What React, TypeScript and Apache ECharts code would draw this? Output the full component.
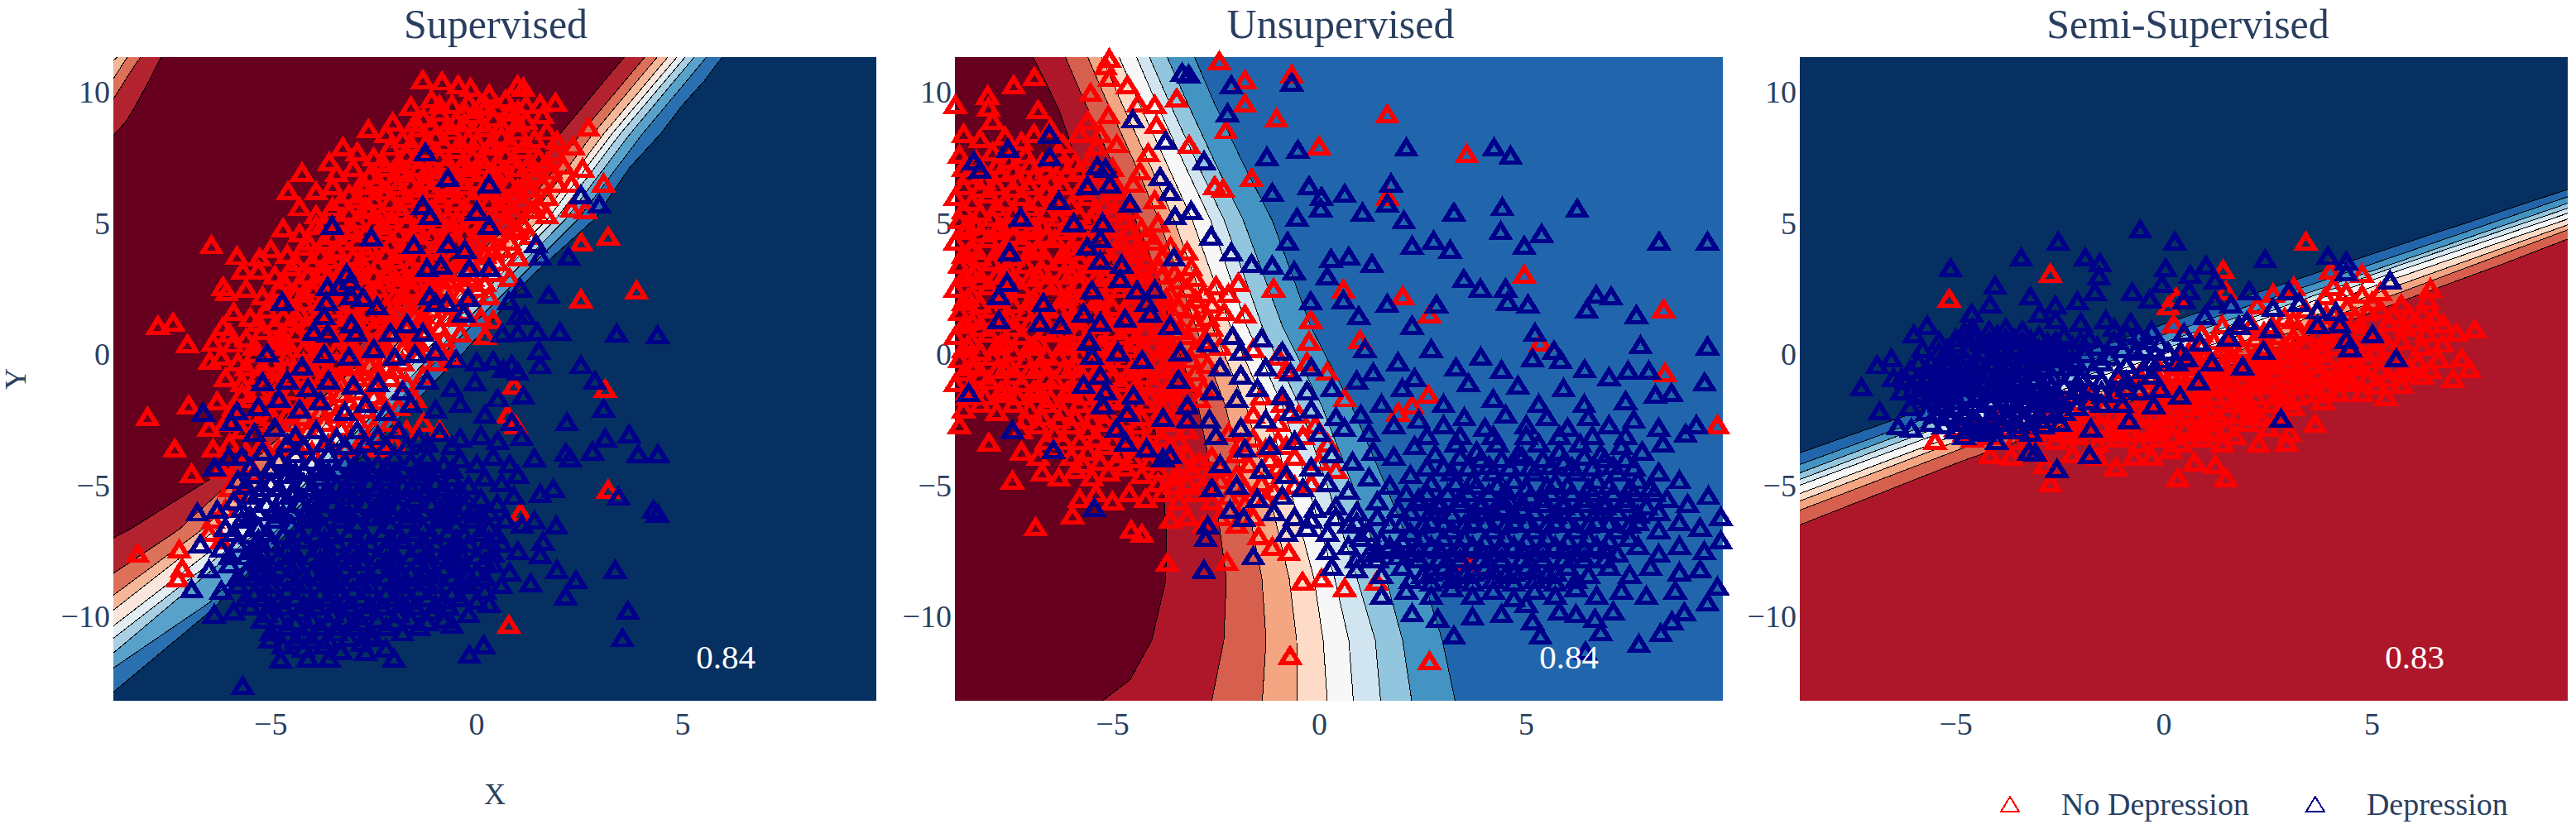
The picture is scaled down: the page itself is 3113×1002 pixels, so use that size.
import React, { useEffect, useRef } from "react";
import * as echarts from "echarts";

const panelTitles = ["Supervised", "Unsupervised", "Semi-Supervised"];
const scores = ["0.84", "0.84", "0.83"];
const tickX = [-5, 0, 5];
const tickY = [-10, -5, 0, 5, 10];
const legendNames = ["No Depression", "Depression"];

// Scatter points, flat x,y lists
const supNo = [
-1.31,10.45,-.84,10.39,-.45,10.25,-.15,10.15,.23,9.44,.99,10.25,1.13,10.15,1.54,9.54,1.91,9.59,2.71,8.63,2.34,7.93,1.95,8.13,2.57,7.08,3.08,6.51,2.3,6.51,1.95,6.51,2.3,5.54,2.64,5.5,2.54,4.25,3.19,4.49,3.88,2.43,2.53,2.1,3.12,-1.33,3.19,-5.16,1.06,-6.03,.78,-10.31,-6.44,4.15,-5.82,3.74,-5.27,3.68,-4.24,6.92,-4.58,6.21,-3.58,7.32,-3.25,7.89,-2.63,8.57,-2.04,8.84,-1.6,9.44,-7.74,1.09,-7.37,1.21,-7.02,.38,-7.99,-2.39,-8.23,-7.6,-7.33,-3.6,-6.92,-4.55,-7.22,-7.44,-7.15,-8.15,-7.25,-8.55,-6.99,-1.94,-6.48,-.26,-6.4,.44,-6.16,1.05,-5.93,.4,-5.68,3.18,-6.16,2.57,-6.07,2.37,
-1.1,9.7,-.6,9.5,-.2,9.6,.3,9.9,.7,9.7,1.2,9.5,-1.3,9,-.9,9.2,-.5,8.9,-.1,9.1,.4,9,.8,9.2,1.2,8.9,1.6,9.1,
-2.2,8.4,-1.8,8.2,-1.4,8.6,-1,8.3,-.6,8.5,-.2,8.2,.2,8.6,.6,8.3,1,8.5,1.4,8.2,1.7,8.5,
-2.9,7.7,-2.5,7.5,-2.1,7.9,-1.7,7.6,-1.3,7.8,-.9,7.5,-.5,7.8,-.1,7.5,.3,7.9,.7,7.6,1.1,7.8,1.5,7.5,1.9,7.7,
-3.4,6.9,-3,7.1,-2.6,6.8,-2.2,7.1,-1.8,6.9,-1.4,7.1,-1,6.8,-.6,7,-.2,6.9,.2,7.2,.6,6.9,1,7.1,1.4,6.8,1.8,7,2.1,7.2,
-3.9,6.2,-3.5,6.4,-3.1,6.1,-2.7,6.4,-2.3,6.2,-1.9,6.4,-1.5,6.1,-1.1,6.3,-.7,6.1,-.3,6.4,.1,6.2,.5,6.4,.9,6.1,1.3,6.3,1.7,6,
-4.3,5.6,-3.9,5.3,-3.5,5.6,-3.1,5.4,-2.7,5.6,-2.3,5.3,-1.9,5.6,-1.5,5.3,-1.1,5.5,-.7,5.2,-.3,5.6,.1,5.3,.5,5.6,.9,5.3,1.3,5.5,1.7,5.3,
-4.7,4.8,-4.3,4.6,-3.9,4.9,-3.5,4.5,-3.1,4.8,-2.7,4.6,-2.3,4.9,-1.9,4.6,-1.5,4.8,-1.1,4.5,-.7,4.8,-.3,4.6,.1,4.9,.5,4.6,.9,4.8,1.3,4.5,
-5,4,-4.6,3.8,-4.2,4.1,-3.8,3.8,-3.4,4,-3,3.7,-2.6,4.1,-2.2,3.8,-1.8,4,-1.4,3.7,-1,4,-.6,3.7,-.2,4.1,.2,3.8,.6,4,1,3.7,
-5.3,3.2,-4.9,3,-4.5,3.3,-4.1,3,-3.7,3.2,-3.3,3,-2.9,3.3,-2.5,3,-2.1,3.2,-1.7,2.9,-1.3,3.2,-.9,2.9,-.5,3.2,-.1,2.9,.4,3.1,.8,2.9,
-5.6,2.5,-5.2,2.2,-4.8,2.5,-4.4,2.3,-4,2.5,-3.6,2.2,-3.2,2.5,-2.8,2.3,-2.4,2.5,-2,2.2,-1.6,2.5,-1.2,2.2,-.8,2.5,-.4,2.3,0,2.5,.3,2.2,
-5.9,1.6,-5.5,1.4,-5.1,1.7,-4.7,1.4,-4.3,1.6,-3.9,1.4,-3.5,1.7,-3.1,1.4,-2.7,1.6,-2.3,1.3,-1.9,1.6,-1.5,1.4,-1.1,1.7,-.7,1.4,-.3,1.6,.1,1.4,.4,1.3,
-6,.8,-5.6,.6,-5.2,.9,-4.8,.6,-4.4,.8,-4,.6,-3.6,.9,-3.2,.6,-2.8,.8,-2.4,.5,-2,.8,-1.6,.6,-1.2,.9,-.8,.6,-.4,.8,.2,.7,
-6.2,-.1,-5.8,-.3,-5.4,0,-5,-.3,-4.6,-.1,-4.2,-.3,-3.8,0,-3.4,-.3,-3,-.1,-2.6,-.4,-2.2,-.1,-1.8,-.3,-1.4,0,-1,-.3,-.6,-.1,
-6.1,-.9,-5.7,-1.1,-5.3,-.8,-4.9,-1.1,-4.5,-.9,-4.1,-1.1,-3.7,-.8,-3.3,-1.1,-2.9,-.9,-2.5,-1.2,-2.1,-.9,-1.7,-1.1,-1.3,-.8,.9,-1.2,.75,-2.3,.95,-2.7,
-6.3,-1.8,-5.9,-2,-5.5,-1.7,-5.1,-2,-4.7,-1.8,-4.3,-2,-3.9,-1.7,-3.5,-2,-3.1,-1.8,-2.7,-2.1,-2.3,-1.8,-1.9,-2,-1.5,-1.7,
-6.5,-2.8,-6.1,-2.6,-5.7,-2.9,-5.3,-2.6,-4.9,-2.8,-4.5,-2.6,-4.1,-2.9,-3.7,-2.6,-3.3,-2.8,-2.9,-2.5,-2.5,-2.8,-2.1,-2.6,-1.7,-2.9,-1.3,-2.6,-.9,-2.9,
-6.4,-3.6,-6,-3.4,-5.6,-3.7,-5.2,-3.4,-4.8,-3.6,-4.4,-3.4,-4,-3.7,-3.6,-3.4,-3.2,-3.6,-2.8,-3.3,-2.4,-3.6,-2,-3.4,
-6.2,-4.4,-5.8,-4.2,-5.4,-4.5,-6,-5.1,-5.6,-5.3,-6.1,-5.9,-6.4,-6.3,-6.5,-6.8,-6.2,-7.1,
];
const supNoCore = [
-.9,9.5,-.3,9.3,.1,9.5,.5,9.4,1,9.3,-1.5,8.8,-1.1,8.7,-.7,8.7,-.3,8.8,.1,8.8,.6,8.7,1,8.8,-1.6,8,-1.2,8.1,-.8,8,-.4,8,0,8.1,.4,8,.8,8.1,1.2,8,
-2.3,7.3,-1.9,7.3,-1.5,7.4,-1.1,7.2,-.7,7.3,-.3,7.3,.1,7.4,.5,7.3,.9,7.4,1.3,7.3,1.7,7.3,-2.8,6.5,-2.4,6.6,-2,6.6,-1.6,6.5,-1.2,6.6,-.8,6.5,-.4,6.6,0,6.6,.4,6.7,.8,6.5,1.2,6.6,1.6,6.5,
-3.3,5.8,-2.9,5.9,-2.5,5.9,-2.1,5.8,-1.7,5.9,-1.3,5.8,-.9,5.9,-.5,5.8,-.1,5.9,.3,5.8,.7,5.9,1.1,5.8,1.5,5.7,-3.7,5,-3.3,5.1,-2.9,5.1,-2.5,5,-2.1,5.1,-1.7,5,-1.3,5.1,-.9,5,-.5,5.1,-.1,5,.3,5.1,.7,5,1.1,5,
-4.1,4.3,-3.7,4.3,-3.3,4.3,-2.9,4.3,-2.5,4.4,-2.1,4.2,-1.7,4.3,-1.3,4.2,-.9,4.3,-.5,4.2,-.1,4.3,.3,4.3,.8,4.3,-4.4,3.5,-4,3.5,-3.6,3.6,-3.2,3.4,-2.8,3.5,-2.4,3.4,-2,3.6,-1.6,3.4,-1.2,3.5,-.8,3.4,-.4,3.5,.1,3.4,.5,3.5,
-4.7,2.8,-4.3,2.7,-3.9,2.8,-3.5,2.7,-3.1,2.9,-2.7,2.7,-2.3,2.8,-1.9,2.7,-1.5,2.8,-1.1,2.7,-.7,2.8,-.3,2.7,.2,2.7,-5,2,-4.6,2,-4.2,2,-3.8,1.9,-3.4,2,-3,1.9,-2.6,2.1,-2.2,1.8,-1.8,2,-1.4,1.9,-1,2,-.6,1.9,
-5.3,1.2,-4.9,1.1,-4.5,1.2,-4.1,1.1,-3.7,1.2,-3.3,1.1,-2.9,1.2,-2.5,1,-2.1,1.2,-1.7,1,-1.3,1.2,-.9,1,-5.4,.3,-5,.3,-4.6,.4,-4.2,.2,-3.8,.4,-3.4,.2,-3,.3,-2.6,.1,-2.2,.3,-1.8,.2,-1.4,.4,-.9,.2,
-5.6,-.5,-5.2,-.5,-4.8,-.6,-4.4,-.6,-4,-.5,-3.6,-.6,-3.2,-.5,-2.8,-.7,-2.4,-.6,-2,-.6,-5.7,-1.5,-5.3,-1.4,-4.9,-1.5,-4.5,-1.4,-4.1,-1.5,-3.7,-1.4,-3.3,-1.5,-2.9,-1.4,-2.5,-1.6,-5.8,-2.3,-5.4,-2.3,-5,-2.4,-4.6,-2.3,-4.2,-2.4,-3.8,-2.2,-3.4,-2.3,-3,-2.2,
];
const supNoFill = [
-1.9,7,-1.2,7,-.4,7.1,.4,7,1.2,7.1,-2.2,6.2,-1.4,6.3,-.6,6.3,.3,6.2,1,6.3,-2.6,5.5,-1.8,5.4,-1,5.4,-.2,5.4,.6,5.5,1.4,5.5,-3,4.7,-2.2,4.7,-1.4,4.7,-.6,4.7,.2,4.7,1,4.7,-3.4,3.9,-2.7,3.9,-1.9,3.9,-1.1,3.9,-.3,3.9,.4,3.9,-3.8,3.1,-3,3.1,-2.2,3.1,-1.5,3.1,-.7,3.1,0,3.1,-4.2,2.3,-3.4,2.3,-2.6,2.4,-1.8,2.3,-1,2.3,-.2,2.2,-4.4,1.4,-3.7,1.5,-2.9,1.5,-2.1,1.5,-1.3,1.5,-.5,1.4,-4.7,.5,-3.9,.5,-3.1,.5,-2.3,.4,-1.5,.5,-4.6,-.5,-3.8,-.5,-3,-.5,-2.2,-.5,
];
const supDep = [
-1.25,7.68,-.7,6.71,.3,6.47,-1.31,5.66,-1.14,5.26,0,5.44,.3,4.89,2.53,6.07,2.98,5.7,-3.51,4.89,-2.56,4.45,-1.53,4.15,-.69,4.19,-.29,3.98,1.44,4.19,1.54,3.72,2.23,3.72,-3.16,3.07,-1.21,3.28,-.87,3.38,-.18,3.28,.3,3.28,-3.62,2.57,-3.34,2.57,-3.07,2.77,-4.72,2,-3.65,2,-3.05,2.2,-2.76,2.16,-2.42,1.82,-1.14,2.2,-1,1.96,-.73,1.96,-.21,2.16,1.06,2.51,1.75,2.26,-.32,1.56,.78,2.02,1,1.46,1.17,1.46,-3.71,1.46,-3.04,1.15,-3.96,.85,-3.62,.79,-2.93,.81,-1.69,1.15,-1.31,.81,-2.1,.81,.62,.79,1,.81,1.47,.85,2.02,.85,3.4,.79,4.39,.73,1.51,.14,1.54,-.42,2.53,-.42,2.87,-1.01,3.08,-2.08,2.19,-2.59,.4,-.26,.65,-.57,.85,-.4,.99,-.67,1.13,-1.58,.51,-1.68,-.04,-1.07,3.7,-3.05,3.12,-3.2,2.81,-3.7,2.16,-3.76,2.27,-3.96,1.4,-3.96,3.92,-3.8,4.4,-3.8,.85,-2.59,1.09,-3.15,.51,-3.3,1.86,-5.12,1.54,-5.32,3.44,-5.42,4.29,-5.93,4.39,-6.07,1.4,-6.33,1.93,-6.53,1.61,-7.14,1.54,-7.64,1.95,-8.21,3.36,-8.21,2.41,-8.61,1.31,-8.72,2.16,-9.22,3.67,-9.77,3.54,-10.82,.17,-11.08,-.18,-11.45,-5.68,-12.64,-2.01,-11.59,-2.69,-11.34,-3.58,-11.59,-4.1,-11.59,-4.76,-11.63,-5.02,-10.88,-6.37,-9.91,-6.92,-8.96,-6.71,-7.24,-6.78,-6.03,-6.3,-5.93,-6.37,-4.31,-6.02,-3.9,-5.96,-2.59,-6.64,-2.22,-5.82,-2.18,-5.2,-1.07,-5.09,.04,-4.24,-.47,
-3.7,0,-3.1,-.1,-2.5,.2,-2,-.1,-1.5,0,-1,.1,-.5,-.2,0,-.3,-4.6,-1,-4.1,-1.3,-3.6,-1,-3,-1.2,-2.4,-1.1,-1.8,-1.4,-1.2,-1,-.6,-1.3,
-5.3,-2,-4.8,-1.7,-4.3,-2.1,-3.8,-1.8,-3.2,-2.2,-2.7,-1.9,-2.2,-2.2,-1.6,-1.9,-1,-2.1,-.4,-1.9,.2,-2.3,
-5.4,-3,-4.9,-2.8,-4.4,-3.1,-3.9,-2.9,-3.4,-3.2,-2.9,-2.9,-2.4,-3.1,-1.9,-2.9,-1.4,-3.2,-.9,-3,-.4,-3.2,.1,-3.1,
-5.7,-3.9,-5.2,-3.7,-4.8,-4,-4.4,-3.8,-4,-4.1,-3.6,-3.8,-3.2,-4.1,-2.8,-3.9,-2.4,-4.2,-2,-3.9,-1.6,-4.1,-1.2,-3.9,-.8,-4.2,-.4,-4,0,-4.2,.4,-3.9,.8,-4.2,
-5.8,-4.8,-5.4,-4.6,-5,-4.9,-4.6,-4.6,-4.2,-4.9,-3.8,-4.7,-3.4,-5,-3,-4.7,-2.6,-4.9,-2.2,-4.7,-1.8,-5,-1.4,-4.7,-1,-4.9,-.6,-4.7,-.2,-5,.2,-4.7,.6,-4.9,1,-4.6,
-5.9,-5.6,-5.5,-5.4,-5.1,-5.7,-4.7,-5.4,-4.3,-5.7,-3.9,-5.5,-3.5,-5.7,-3.1,-5.4,-2.7,-5.7,-2.3,-5.5,-1.9,-5.8,-1.5,-5.5,-1.1,-5.7,-.7,-5.5,-.3,-5.8,.1,-5.5,.5,-5.7,.9,-5.4,
-6.1,-6.6,-5.7,-6.3,-5.3,-6.6,-4.9,-6.3,-4.5,-6.5,-4.1,-6.3,-3.7,-6.6,-3.3,-6.3,-2.9,-6.5,-2.5,-6.2,-2.1,-6.5,-1.7,-6.3,-1.3,-6.6,-.9,-6.3,-.5,-6.5,-.1,-6.3,.3,-6.6,.7,-6.3,1.1,-6.5,
-6.2,-7.4,-5.8,-7.2,-5.4,-7.5,-5,-7.2,-4.6,-7.4,-4.2,-7.1,-3.8,-7.4,-3.4,-7.2,-3,-7.5,-2.6,-7.2,-2.2,-7.4,-1.8,-7.1,-1.4,-7.4,-1,-7.2,-.6,-7.5,-.2,-7.2,.2,-7.4,.6,-7.2,1,-7.5,
-6.5,-8.2,-6,-8,-5.6,-8.3,-5.2,-8,-4.8,-8.2,-4.4,-8,-4,-8.3,-3.6,-8,-3.2,-8.2,-2.8,-7.9,-2.4,-8.2,-2,-8,-1.6,-8.3,-1.2,-8,-.8,-8.2,-.4,-8,0,-8.3,.4,-8,.8,-8.3,
-6.2,-9,-5.8,-8.8,-5.4,-9.1,-5,-8.8,-4.6,-9,-4.2,-8.8,-3.8,-9.1,-3.4,-8.8,-3,-9,-2.6,-8.8,-2.2,-9.1,-1.8,-8.8,-1.4,-9,-1,-8.8,-.6,-9.1,-.2,-8.8,.2,-9,.6,-8.8,
-5.9,-9.8,-5.5,-9.6,-5.1,-9.9,-4.7,-9.6,-4.3,-9.8,-3.9,-9.6,-3.5,-9.9,-3.1,-9.6,-2.7,-9.8,-2.3,-9.6,-1.9,-9.9,-1.5,-9.6,-1.1,-9.8,-.7,-9.6,-.2,-9.9,.3,-9.5,
-5,-10.6,-4.6,-10.4,-4.2,-10.7,-3.8,-10.4,-3.4,-10.6,-3,-10.4,-2.6,-10.7,-2.2,-10.4,-1.8,-10.6,-1.4,-10.4,-.6,-10.3,
-4.7,-11.1,-4.2,-11.2,-3.7,-11.1,-3.3,-11.3,-2.8,-11,-2.2,-11.2,
];
const supDepCore = [
-4.6,-3.4,-4.2,-3.5,-3.7,-3.4,-3.2,-3.5,-2.7,-3.4,-2.2,-3.5,-1.7,-3.5,-1.2,-3.4,-.6,-3.5,-5.5,-4.3,-5,-4.3,-4.6,-4.3,-4.2,-4.4,-3.8,-4.3,-3.4,-4.4,-3,-4.3,-2.6,-4.4,-2.2,-4.3,-1.8,-4.4,-1.4,-4.3,-1,-4.4,-.6,-4.4,
-5.6,-5,-5.2,-5.1,-4.8,-5.1,-4.4,-5.2,-4,-5.1,-3.6,-5.2,-3.2,-5.1,-2.8,-5.2,-2.4,-5.1,-2,-5.2,-1.6,-5.1,-1.2,-5.2,-.8,-5.1,-.4,-5.2,-5.7,-5.9,-5.3,-6,-4.9,-5.9,-4.5,-6,-4.1,-5.9,-3.7,-6,-3.3,-5.9,-2.9,-6,-2.5,-5.9,-2.1,-6,-1.7,-5.9,-1.3,-6,-.9,-5.9,-.5,-6,-.1,-5.9,.3,-6,
-5.9,-6.8,-5.5,-6.9,-5.1,-6.8,-4.7,-6.9,-4.3,-6.8,-3.9,-6.9,-3.5,-6.9,-3.1,-6.8,-2.7,-6.9,-2.3,-6.8,-1.9,-6.9,-1.5,-6.8,-1.1,-6.9,-.7,-6.8,-.3,-6.9,.1,-6.8,.5,-6.9,-6,-7.7,-5.6,-7.7,-5.2,-7.6,-4.8,-7.7,-4.4,-7.6,-4,-7.7,-3.6,-7.6,-3.2,-7.7,-2.8,-7.6,-2.4,-7.7,-2,-7.6,-1.6,-7.7,-1.2,-7.6,-.8,-7.7,-.4,-7.6,0,-7.7,.4,-7.6,
-5.8,-8.5,-5.4,-8.5,-5,-8.4,-4.6,-8.5,-4.2,-8.4,-3.8,-8.5,-3.4,-8.4,-3,-8.5,-2.6,-8.4,-2.2,-8.5,-1.8,-8.4,-1.4,-8.5,-1,-8.4,-.6,-8.5,-.2,-8.4,.2,-8.5,-5.6,-9.3,-5.2,-9.3,-4.8,-9.4,-4.4,-9.3,-4,-9.4,-3.6,-9.3,-3.2,-9.4,-2.8,-9.3,-2.4,-9.4,-2,-9.3,-1.6,-9.4,-1.2,-9.3,-.8,-9.4,-.4,-9.3,0,-9.4,
-5.2,-10.1,-4.8,-10.1,-4.4,-10.2,-4,-10.1,-3.6,-10.2,-3.2,-10.1,-2.8,-10.2,-2.4,-10.1,-2,-10.2,-1.6,-10.1,-1.2,-10.2,-.8,-10.1,-4.4,-10.9,-4,-10.9,-3.6,-10.9,-3.1,-10.8,-2.5,-10.8,
];
const supDepFill = [
-5.3,-5.3,-4.5,-5.3,-3.7,-5.35,-2.9,-5.3,-2.1,-5.35,-1.3,-5.3,-.5,-5.35,-5.5,-6.15,-4.7,-6.1,-3.9,-6.15,-3.1,-6.1,-2.3,-6.15,-1.5,-6.1,-.7,-6.15,.1,-6.1,-5.3,-7.05,-4.5,-7.1,-3.7,-7.05,-2.9,-7.1,-2.1,-7.05,-1.3,-7.1,-.5,-7.05,.3,-7.1,-5.4,-7.85,-4.6,-7.9,-3.8,-7.85,-3,-7.9,-2.2,-7.85,-1.4,-7.9,-.6,-7.85,.2,-7.9,-5.2,-8.7,-4.4,-8.7,-3.6,-8.65,-2.8,-8.7,-2,-8.65,-1.2,-8.7,-.4,-8.65,-5,-9.55,-4.2,-9.55,-3.4,-9.5,-2.6,-9.55,-1.8,-9.5,-1,-9.55,-3.4,-10.4,-2.9,-10,-4.1,-10.4,-5,-4.4,-4.4,-4.5,-3.6,-4.5,-2.8,-4.5,-2,-4.5,-1.2,-4.5,
];
const unsNo = [
-2.42,11.16,-.67,10.66,-1.8,10.45,-1.8,9.55,-1.04,8.98,1.64,9.14,-2.26,8.53,-.01,7.93,3.56,7.62,-1.64,6.71,-2.53,6.41,-2.33,6.31,1.64,6,4.95,3.03,-1.96,2.73,-1.11,2.51,.58,2.47,2.01,2.22,2.66,1.52,8.32,1.72,-.21,1.31,-1.8,1.52,-.25,.49,.98,.55,5.34,.44,.19,-.67,8.35,-.71,2.63,-1.54,2.24,-1.94,1.9,-2.22,.61,-1.68,9.62,-2.69,-.71,-11.49,2.66,-11.69,-.41,-8.66,.05,-8.55,.61,-8.9,1.38,-8.66,3.62,-7.95,-5.08,11.26,-5.17,10.96,-5.08,10.52,-4.64,10.25,-5.53,9.95,-6.89,10.56,-7.39,10.25,-8.02,9.85,-4.38,9.55,-3.98,9.5,-3.45,9.75,-3.94,8.74,-3.15,7.97,-4.14,7.66,-4.34,6.96,-3.98,5.86,-7.99,-3.36,-7.42,-4.81,-6.86,-6.59,-4.55,-6.69,-4.29,-6.84,-5.97,-6.13,-3.68,-7.95,-2.24,-7.91,-.74,-7.54,-1.14,-7.34,-1.47,-6.94,
-8.8,9.5,-8,9.4,-7.9,8.9,-6.8,9.3,-6.5,8.6,-5.6,8.9,-5.1,9.1,-5.3,8.4,-8.6,8.4,-8.2,8.2,-7.6,8.3,-7.2,8.1,-6.9,8.4,-6.2,8,-5.8,8.4,-5.4,7.9,-4.9,8,
-8.7,7.6,-8.3,7.4,-7.9,7.7,-7.5,7.4,-7.1,7.6,-6.7,7.3,-6.3,7.7,-5.9,7.3,-5.5,7.5,-5,7.1,-8.5,6.8,-8.1,6.6,-7.7,6.9,-7.3,6.6,-6.9,6.8,-6.5,6.6,-6.1,6.9,-5.7,6.5,-5.3,6.8,-4.9,6.4,-4.5,6.5,
-8.8,6,-8.4,5.8,-8,6.1,-7.6,5.8,-7.2,6,-6.8,5.8,-6.4,6.1,-6,5.7,-5.6,6,-5.2,5.7,-4.8,5.9,-8.7,5.1,-8.3,4.9,-7.9,5.2,-7.5,4.9,-7.1,5.1,-6.7,4.9,-6.3,5.2,-5.9,4.8,-5.5,5.1,-5.1,4.8,-4.7,5.1,-4.3,4.8,-3.9,5,
-8.8,4.3,-8.4,4.1,-8,4.4,-7.6,4.1,-7.2,4.3,-6.8,4.1,-6.4,4.4,-6,4.1,-5.6,4.3,-5.2,4,-4.8,4.3,-4.4,4.1,-4,4.3,-3.6,4.1,-3.2,3.9,
-8.7,3.4,-8.3,3.2,-7.9,3.5,-7.5,3.2,-7.1,3.4,-6.7,3.2,-6.3,3.5,-5.9,3.2,-5.5,3.4,-5.1,3.1,-4.7,3.4,-4.3,3.2,-3.9,3.4,-3.5,3.1,-3.1,3.3,
-8.8,2.5,-8.4,2.3,-8,2.6,-7.6,2.3,-7.2,2.5,-6.8,2.3,-6.4,2.6,-6,2.3,-5.6,2.5,-5.2,2.2,-4.8,2.5,-4.4,2.3,-4,2.5,-3.6,2.3,-3.2,2.5,-2.8,2.3,-2.5,2.6,-2.2,2.3,
-8.7,1.6,-8.3,1.4,-7.9,1.7,-7.5,1.4,-7.1,1.6,-6.7,1.4,-6.3,1.7,-5.9,1.4,-5.5,1.6,-5.1,1.3,-4.7,1.6,-4.3,1.4,-3.9,1.6,-3.5,1.4,-3.1,1.7,-2.7,1.4,-2.3,1.6,
-8.8,.7,-8.4,.5,-8,.8,-7.6,.5,-7.2,.7,-6.8,.5,-6.4,.8,-6,.4,-5.6,.7,-5.2,.4,-4.8,.7,-4.4,.5,-4,.7,-3.6,.4,-3.2,.7,-2.8,.5,-2.4,.3,-1.6,.2,-1,-.1,
-8.7,-.2,-8.3,-.4,-7.9,-.1,-7.5,-.4,-7.1,-.2,-6.7,-.4,-6.3,-.1,-5.9,-.4,-5.5,-.2,-5.1,-.5,-4.7,-.2,-4.3,-.4,-3.9,-.2,-3.5,-.5,-3.1,-.2,-2.7,-.4,-.8,-.6,-.3,-.3,
-8.8,-1.1,-8.4,-1.3,-8,-1,-7.6,-1.3,-7.2,-1.1,-6.8,-1.3,-6.4,-1,-6,-1.3,-5.6,-1.1,-5.2,-1.4,-4.8,-1.1,-4.4,-1.3,-4,-1.1,-3.6,-1.4,-3.2,-1.1,-2.8,-1.3,-1.4,-1.6,-.9,-1.9,
-8.6,-2.1,-8.2,-1.9,-7.8,-2.2,-7.4,-1.9,-7,-2.1,-6.6,-1.9,-6.2,-2.2,-5.8,-1.9,-5.4,-2.1,-5,-1.8,-4.6,-2.1,-4.2,-1.9,-3.8,-2.1,-3.4,-1.9,-1.6,-2.3,-1,-2.6,-.5,-2.3,-.1,-2.7,
-8.7,-2.7,-7.2,-2.9,-6.8,-2.7,-6.4,-3,-6,-2.7,-5.6,-2.9,-5.2,-2.6,-4.8,-2.9,-4.4,-2.7,-4,-2.9,-3.6,-2.6,-3.2,-2.9,-2.2,-3,-1.6,-3.2,-1,-3.3,-.4,-3.1,.2,-3.4,
-7.2,-3.7,-6.8,-3.9,-6.4,-3.6,-6,-3.9,-5.6,-3.7,-5.2,-3.5,-4.8,-3.8,-4.4,-3.5,-4,-3.7,-3.6,-3.5,-3.2,-3.8,-2.6,-3.9,-2,-3.8,-1.2,-4,-.6,-3.9,0,-4.1,.4,-4.4,
-6.7,-4.5,-6.3,-4.7,-5.9,-4.4,-5.5,-4.7,-5.1,-4.5,-4.7,-4.3,-4.3,-4.6,-3.9,-4.4,-3.5,-4.7,-3.1,-4.4,-2.7,-4.7,-2,-4.6,-1.4,-4.9,-.9,-4.6,-.2,-4.9,
-5.8,-5.5,-5.4,-5.3,-5,-5.6,-4.6,-5.3,-4.2,-5.5,-3.8,-5.3,-3.4,-5.6,-3,-5.3,-2.6,-5.6,-2.2,-5.4,-1.8,-5.7,-1.3,-5.5,-3.6,-6.3,-3.2,-6.2,-2.8,-6.5,-2.4,-6.2,-2,-6.5,-1.6,-6.2,
];
const unsNoCore = [
-8.6,7.1,-8.2,7.1,-7.8,7.2,-7.4,7,-7,7.2,-6.6,7,-6.2,7.2,-5.8,7,-5.4,7.1,-8.6,6.4,-8.2,6.3,-7.8,6.4,-7.4,6.3,-7,6.4,-6.6,6.2,-6.2,6.4,-5.8,6.2,-5.4,6.4,-5,6.2,
-8.6,5.5,-8.2,5.4,-7.8,5.6,-7.4,5.4,-7,5.6,-6.6,5.4,-6.2,5.6,-5.8,5.3,-5.4,5.5,-5,5.4,-4.6,5.5,-8.6,4.7,-8.2,4.6,-7.8,4.7,-7.4,4.5,-7,4.7,-6.6,4.5,-6.2,4.7,-5.8,4.5,-5.4,4.7,-5,4.4,-4.6,4.7,-4.2,4.5,
-8.6,3.8,-8.2,3.7,-7.8,3.9,-7.4,3.7,-7,3.9,-6.6,3.6,-6.2,3.8,-5.8,3.6,-5.4,3.8,-5,3.6,-4.6,3.8,-4.2,3.6,-3.8,3.7,-8.6,2.9,-8.2,2.8,-7.8,3,-7.4,2.8,-7,2.9,-6.6,2.7,-6.2,3,-5.8,2.7,-5.4,2.9,-5,2.7,-4.6,2.9,-4.2,2.8,-3.8,3,-3.4,2.8,-3,2.9,
-8.6,2,-8.2,1.9,-7.8,2.1,-7.4,1.9,-7,2,-6.6,1.8,-6.2,2.1,-5.8,1.9,-5.4,2,-5,1.8,-4.6,2,-4.2,1.9,-3.8,2,-3.4,1.8,-3,2.1,-2.6,1.9,-8.6,1.1,-8.2,1,-7.8,1.2,-7.4,1,-7,1.2,-6.6,.9,-6.2,1.2,-5.8,.9,-5.4,1.1,-5,.9,-4.6,1.1,-4.2,.9,-3.8,1.1,-3.4,.9,-3,1.2,-2.6,1,
-8.6,.2,-8.2,.1,-7.8,.3,-7.4,.1,-7,.3,-6.6,0,-6.2,.3,-5.8,0,-5.4,.2,-5,0,-4.6,.2,-4.2,.1,-3.8,.2,-3.4,0,-3,.2,-8.6,-.7,-8.2,-.8,-7.8,-.6,-7.4,-.8,-7,-.6,-6.6,-.9,-6.2,-.6,-5.8,-.8,-5.4,-.7,-5,-.9,-4.6,-.7,-4.2,-.8,-3.8,-.6,-3.4,-.9,-3,-.7,
-8.5,-1.6,-8.1,-1.6,-7.7,-1.5,-7.3,-1.6,-6.9,-1.5,-6.5,-1.7,-6.1,-1.5,-5.7,-1.6,-5.3,-1.5,-4.9,-1.7,-4.5,-1.5,-4.1,-1.6,-3.7,-1.5,-3.3,-1.6,-2.9,-1.7,-7.1,-2.5,-6.7,-2.4,-6.3,-2.5,-5.9,-2.4,-5.5,-2.5,-5.1,-2.3,-4.7,-2.5,-4.3,-2.4,-3.9,-2.5,-3.5,-2.4,-6.6,-3.3,-6.2,-3.3,-5.8,-3.3,-5.4,-3.2,-5,-3.3,-4.6,-3.2,-4.2,-3.3,-3.8,-3.2,-3.4,-3.3,-1.9,-3.4,-1.3,-3.6,-.8,-3.5,
-5.7,-4.2,-5.3,-4.1,-4.9,-4.1,-4.5,-4,-4.1,-4.1,-3.7,-4,-3.3,-4.2,-2.9,-4.1,-2.4,-4.3,-1.7,-4.2,-1,-4.3,-3.9,-4.9,-3.5,-5,-3.2,-4.9,-2.8,-5,-2.4,-4.8,-1.8,-5.1,-1.1,-5.2,-.6,-5,
];
const unsNoFill = [
-8.4,3.05,-7.6,3.05,-6.8,3,-6,3.05,-5.2,3,-4.4,3,-8.5,2.15,-7.7,2.2,-6.9,2.15,-6.1,2.2,-5.3,2.15,-4.5,2.2,-3.7,2.15,-8.4,1.25,-7.6,1.25,-6.8,1.2,-6,1.25,-5.2,1.2,-4.4,1.25,-3.6,1.2,-8.5,.35,-7.7,.4,-6.9,.35,-6.1,.4,-5.3,.35,-4.5,.4,-3.7,.35,-8.4,-.5,-7.6,-.55,-6.8,-.5,-6,-.55,-5.2,-.5,-4.4,-.55,-3.6,-.5,-8.5,-1.4,-7.7,-1.4,-6.9,-1.35,-6.1,-1.4,-5.3,-1.35,-4.5,-1.4,-3.7,-1.35,-8.4,3.95,-7.6,3.9,-6.8,3.95,-6,3.9,-5.2,3.9,-4.4,3.9,-8.5,4.85,-7.7,4.85,-6.9,4.85,-6.1,4.9,-5.3,4.85,
];
const unsDep = [
-3.32,10.72,-3.16,10.66,-2.13,10.25,-.67,10.35,-2.22,9.18,-4.51,8.94,-3.72,8.13,-6.53,8.37,-7.53,7.83,-8.35,7.36,-8.21,7.02,-6.52,7.52,-5.37,7.16,-5.17,7.08,-5.61,6.41,-5.07,6.47,-3.85,6.75,-3.61,6.17,-2.79,7.36,-1.27,7.52,-.52,7.79,2.1,7.87,4.22,7.87,4.62,7.56,-.25,6.41,-1.14,6.15,.61,6.11,1.73,6.51,.05,6,.03,5.56,1.64,5.74,1.04,5.4,2.04,5.1,3.25,5.4,4.42,5.6,6.23,5.54,-.54,5.2,-6.3,5.84,-4.58,5.74,-7.22,5.2,-5.94,5,-5.24,5,-3.49,5.26,-3.1,5.46,-2.62,4.49,-.77,4.29,4.38,4.69,5.37,4.59,4.95,4.13,2.76,4.33,2.24,4.13,3.16,3.98,8.21,4.29,9.38,4.29,9.8,3.07,-2.13,3.88,-3.52,3.68,.28,3.64,.71,3.72,1.27,3.44,-1.64,3.44,-1.14,3.38,-.61,3.17,.19,2.97,3.49,2.87,4.5,2.51,3.89,2.51,6.69,2.26,7.05,2.2,4.55,2,5.04,1.9,6.46,1.7,7.66,1.5,2.83,1.9,1.64,1.92,-.21,2.02,.58,2.06,.95,1.46,2.24,1.09,5.21,.81,7.76,.34,9.38,.3,5.67,.14,5.15,-.16,5.83,-.22,6.41,-.57,7.46,-.63,7.96,-.63,7,-.87,9.31,-1.07,8.51,-1.48,8.12,-1.54,7.4,-1.78,9.11,-2.69,8.85,-3.03,2.24,-9.87,7.72,-11.04,8.25,-10.62,8.52,-10.17,8.82,-9.83,9.38,-9.46,9.62,-8.86,3.25,-10.72,2.86,-10.07,5.34,-10.72,6.8,-10.58,6.43,-11.32,6.66,-10.07,5.15,-10.17,
-8.48,-1.48,-7.42,-2.89,-6.43,-3.64,-7.75,1.29,-6.76,1.21,-6.26,1.11,-7.75,2.22,-7.55,2.73,-6.67,1.96,-5.7,1.56,-5.3,1.21,-4.7,1.35,-5.5,2.43,-4.82,2.87,-4.41,2.43,-3.98,2.47,-4.18,1.96,-4.09,1.56,-3.61,1.09,-5.57,.49,-5.5,-.06,-4.87,.08,-4.29,-.22,-5.3,-.81,-5.7,-1.17,-5.17,-1.42,-4.5,-1.58,-5.24,-1.94,-4.64,-2.22,-4.91,-2.83,-4.68,-3.36,-4.18,-3.6,-3.78,-3.96,-3.61,-3.84,-5.44,-5.86,-3.36,.08,-3.41,-.97,-3.19,-1.94,-3.78,-2.43,-3.19,-2.49,-2.66,-2.49,-2.79,-8.21,-1.6,-7.7,-2.75,-7,-2.7,-6.53,-1.83,-6.23,-2.16,-5.93,-7.49,3.88,-5.3,3.58,-4.78,3.42,-5.3,4.39,-5.61,4.09,
-2.7,.4,-2.1,.7,-1.9,.1,-1.4,.6,-.9,.1,-2.4,-.5,-1.9,-.8,-1.3,-.5,-.7,-.7,-.2,-.5,-2.6,-1.4,-2,-1.7,-1.5,-1.3,-.9,-1.6,-.3,-1.4,.3,-1.3,.9,-1,1.3,-.7,1.1,.2,1.9,-.3,2.3,-.9,2.7,.2,3.3,-.5,3.9,-.1,4.4,-.6,
-2.5,-3.1,-1.9,-2.8,-1.3,-2.5,-.7,-2.2,-.2,-2.1,.4,-2.4,1,-2.3,1.5,-1.9,2,-1.3,3,-1.9,3.6,-1.1,4.2,-1.7,4.8,-1.2,5.3,-1.9,5.9,-1.3,6.4,-1.9,
-2.4,-4.2,-1.8,-3.6,-1.2,-3.5,-.6,-3.3,0,-3,.6,-2.8,1.2,-3,1.8,-2.7,2.4,-2.5,3,-2.7,3.5,-2.4,4,-2.8,4.5,-2.3,5,-2.7,5.5,-2.4,6,-2.8,6.5,-2.4,7,-2.7,7.6,-2.5,8.2,-2.8,
-2.6,-5.1,-2,-5,-1.4,-4.4,-.8,-4.6,-.2,-4.3,.3,-3.8,.8,-4.1,1.3,-3.7,1.8,-3.9,2.3,-3.5,2.8,-3.8,3.3,-3.4,3.8,-3.7,4.3,-3.4,4.8,-3.8,5.3,-3.4,5.8,-3.7,6.3,-3.4,6.8,-3.8,7.3,-3.5,7.8,-3.7,8.3,-3.4,
-1.5,-5.5,-.9,-5.4,-.4,-5.1,.2,-4.9,.7,-5.2,1.2,-4.7,1.7,-5,2.2,-4.6,2.7,-4.9,3.2,-4.5,3.7,-4.8,4.2,-4.5,4.7,-4.8,5.2,-4.5,5.7,-4.9,6.2,-4.5,6.7,-4.8,7.2,-4.5,7.7,-4.8,8.2,-4.5,8.7,-4.8,
-1.1,-6,-.6,-6.2,-.1,-5.9,.4,-5.8,.9,-6,1.4,-5.6,1.9,-5.9,2.4,-5.5,2.9,-5.8,3.4,-5.5,3.9,-5.8,4.4,-5.5,4.9,-5.9,5.4,-5.5,5.9,-5.8,6.4,-5.5,6.9,-5.8,7.4,-5.5,7.9,-5.8,8.4,-5.5,8.9,-5.7,9.4,-5.4,
-.8,-6.8,-.3,-6.6,.2,-6.8,.7,-6.5,1.2,-6.8,1.7,-6.5,2.2,-6.8,2.7,-6.4,3.2,-6.7,3.7,-6.4,4.2,-6.7,4.7,-6.4,5.2,-6.7,5.7,-6.4,6.2,-6.7,6.7,-6.4,7.2,-6.7,7.7,-6.4,8.2,-6.7,8.7,-6.4,9.2,-6.6,9.7,-6.2,
.2,-7.5,.7,-7.3,1.2,-7.6,1.7,-7.3,2.2,-7.6,2.7,-7.3,3.2,-7.6,3.7,-7.3,4.2,-7.6,4.7,-7.3,5.2,-7.6,5.7,-7.3,6.2,-7.6,6.7,-7.3,7.2,-7.6,7.7,-7.3,8.2,-7.6,8.7,-7.3,9.3,-7.5,9.7,-7.1,
.3,-8.1,.9,-8.2,1.5,-8.4,2,-8.1,2.5,-8.4,3,-8.1,3.5,-8.4,4,-8.1,4.5,-8.4,5,-8.1,5.5,-8.4,6,-8.1,6.5,-8.4,7,-8.1,7.5,-8.4,8,-8.1,8.7,-8.3,9.2,-8.2,
1.5,-9.2,2.1,-9,2.7,-9.2,3.2,-8.9,3.7,-9.2,4.2,-9,4.7,-9.3,5.2,-9,5.7,-9.2,6.2,-8.9,6.7,-9.2,7.3,-9,7.9,-9.2,8.6,-9,
3.7,-10,4.4,-9.9,5,-9.5,5.8,-9.8,6.2,-9.9,7.1,-9.8,
];
const unsDepCore = [
3.4,-3.9,3.9,-4,4.4,-4,4.9,-3.9,5.4,-4,5.9,-4.1,6.4,-3.9,6.9,-4,7.4,-4,3.3,-4.9,3.8,-5,4.3,-5,4.5,-5.2,5,-5.1,5.5,-5,6,-5,6.5,-5.1,7,-5,7.5,-5.1,8,-5.1,
2.1,-5.3,2.6,-5.3,3.1,-5.3,3.6,-5.3,4.1,-5.3,4.6,-5.6,5.1,-5.4,5.6,-5.3,6.1,-5.3,6.6,-5.3,7.1,-5.3,7.6,-5.3,8.1,-5.3,2.2,-6,2.7,-6,3.2,-6.1,3.7,-6.1,4.2,-6,4.7,-6.1,5.2,-6,5.7,-6.1,6.2,-6,6.7,-6,7.2,-6,7.7,-6.1,8.2,-6,
1.4,-6.2,.9,-6.4,.4,-6.2,-.2,-6.3,1,-7,1.5,-7.1,2,-7.1,2.5,-7,3,-7,3.5,-7,4,-7.1,4.5,-7,5,-7.1,5.5,-7,6,-7.1,6.5,-7,7,-7.1,7.5,-7,
.9,-7.8,1.4,-7.8,1.9,-7.7,2.4,-7.8,2.9,-7.8,3.4,-7.8,3.9,-7.8,4.4,-7.8,4.9,-7.8,5.4,-7.8,5.9,-7.8,6.4,-7.8,6.9,-7.8,2.2,-8.6,2.7,-8.7,3.2,-8.6,3.7,-8.7,4.2,-8.6,4.7,-8.7,5.2,-8.6,5.7,-8.7,6.2,-8.6,
];
const unsDepFill = [
2.6,-3.1,3.4,-3.1,4.2,-3.1,5,-3.1,5.8,-3.1,6.6,-3.1,7.4,-3.1,3,-4.3,3.6,-4.3,4.1,-4.25,4.6,-4.3,5.1,-4.3,5.6,-4.25,6.1,-4.3,6.6,-4.3,7.1,-4.25,7.6,-4.3,2.6,-4.3,
2.4,-5.65,2.9,-5.65,3.4,-5.7,3.9,-5.65,4.4,-5.85,4.9,-5.65,5.4,-5.7,5.9,-5.65,6.4,-5.7,6.9,-5.65,7.4,-5.7,2,-6.45,2.5,-6.5,3,-6.45,3.5,-6.5,4,-6.45,4.5,-6.5,5,-6.45,5.5,-6.5,6,-6.45,6.5,-6.5,7,-6.45,7.5,-6.5,
1.4,-7.45,1.9,-7.45,2.4,-7.4,2.9,-7.45,3.4,-7.4,3.9,-7.45,4.4,-7.4,4.9,-7.45,5.4,-7.4,5.9,-7.45,6.4,-7.4,6.9,-7.45,2.7,-8.3,3.2,-8.25,3.7,-8.3,4.2,-8.25,4.7,-8.3,5.2,-8.25,5.7,-8.3,
];
const semNo = [
3.41,4.29,-2.73,3.07,-5.16,2.12,1.42,3.22,1.49,2.41,.1,1.82,.29,2.16,.23,1.15,4,3.18,4.76,3.07,3.12,2.57,2.62,2.31,2.24,1.86,4.07,2.57,3.88,2.2,4.38,2.37,4.76,2.26,5.2,2.37,6.4,2.51,6.33,2.06,6.21,1.56,6.71,1.15,7.47,.95,7.03,.81,7.34,-.57,6.94,-.93,7.15,-.16,5.71,-1.17,5.33,-1.62,4.76,-1.48,4.19,-1.48,3.82,-1.78,3.63,-2.65,3.02,-2.99,2.94,-3.36,2.27,-3.4,1.49,-4.71,1.23,-4.21,.73,-4.11,.33,-4.71,.16,-3.66,-1.16,-4.31,-.72,-3.9,-2.73,-4.91,-3.68,-3.9,-4.18,-3.84,-2.86,-4.21,-5.5,-3.3,
5.2,1.7,5.7,1.9,5.9,1.5,5.4,1.2,4.9,1.6,4.4,1.8,3.9,1.5,3.4,1.7,2.9,1.4,5.8,1,6.3,.8,6.7,.4,6.2,.3,5.7,.5,5.2,.7,4.7,.9,4.2,1,3.7,.8,3.2,.9,2.7,.7,2.2,.6,1.7,.7,1.2,.5,
6.6,-.2,6.1,-.3,5.6,-.1,5.1,.1,4.6,.2,4.1,.3,3.6,0,3.1,.2,2.6,0,2.1,-.2,1.6,0,1.1,-.2,.6,.1,
6.2,-.8,5.7,-.7,5.2,-.6,4.7,-.5,4.2,-.6,3.7,-.7,3.2,-.5,2.7,-.7,2.2,-.9,1.7,-.7,1.2,-.9,.7,-.7,.2,-.8,
5.1,-1.2,4.4,-1.1,3.9,-1.3,3.4,-1.2,2.9,-1.4,2.4,-1.2,1.9,-1.5,1.4,-1.3,.9,-1.5,.4,-1.3,-.1,-1.5,-.6,-1.3,-1.1,-1.4,
3.1,-2,2.6,-1.9,2.1,-2.1,1.6,-1.9,1.1,-2.2,.6,-2,.1,-2.2,-.4,-2,-.9,-2.1,-1.4,-1.9,-1.9,-2,-2.4,-1.8,
2.5,-2.8,2,-2.6,1.5,-2.8,1,-2.6,.5,-2.8,0,-2.6,-.5,-2.8,-1,-2.6,-1.5,-2.7,-2,-2.5,-2.5,-2.7,-3,-2.5,-3.5,-2.7,-4,-2.4,-4.5,-2.6,-5,-2.8,
1.4,-3.4,.9,-3.2,.4,-3.4,-.1,-3.2,-.6,-3.4,-1.1,-3.2,-1.6,-3.4,-2.1,-3.1,-2.6,-3.3,-3.1,-3.1,-3.6,-3.3,-4.1,-3.1,-4.6,-3.2,
-.3,-3.9,-1.6,-3.9,-2.2,-3.8,
];
const semNoCore = [
5,2,5.5,1.5,6,1.2,6.5,1.4,4.6,1.4,4.1,1.5,3.6,1.2,3.1,1.3,2.6,1.1,2.1,1.1,1.4,1.1,.9,.8,5.4,.3,4.9,.5,4.4,.5,3.9,.6,3.4,.4,2.9,.3,2.4,.3,1.9,.2,1.4,.2,.9,.3,.4,-.2,
6.4,-.6,5.9,-.5,5.4,-.9,4.9,-.2,4.4,-.1,3.9,-.2,3.4,-.2,2.9,-.1,2.4,-.3,1.9,-.5,1.4,-.4,.9,-.5,.4,-.5,-.1,-.6,-.6,-.8,4.9,-.9,4.4,-.8,3.9,-.9,3.4,-.8,2.9,-.9,2.4,-.8,1.9,-1,1.4,-.9,.9,-1,.4,-.9,-.1,-1,-.6,-1,-1.1,-1,
3.7,-1.5,3.2,-1.6,2.7,-1.6,2.2,-1.6,1.7,-1.7,1.2,-1.6,.7,-1.8,.2,-1.7,-.3,-1.7,-.8,-1.7,-1.3,-1.6,-1.8,-1.5,2.8,-2.3,2.3,-2.4,1.8,-2.3,1.3,-2.4,.8,-2.3,.3,-2.4,-.2,-2.3,-.7,-2.4,-1.2,-2.3,-1.7,-2.3,-2.2,-2.2,-2.7,-2.2,
1.7,-3.1,1.2,-3,.7,-3,.2,-3.1,-.3,-3,-.8,-3,-1.3,-3,-1.8,-2.9,-2.3,-3,-2.8,-2.9,-3.3,-3,-3.8,-2.8,-4.3,-2.9,-4.8,-3,
];
const semNoFill = [
4.7,1.1,3.9,1.1,3.1,.65,2.4,.85,1.6,.4,4.6,.05,3.8,.05,3,-.3,2.2,-.05,1.3,-.05,.8,-.1,4.5,-.35,3.6,-.4,2.6,-.45,1.6,-.35,.7,-.35,4.2,-1,3.2,-1,2.2,-1.1,1.2,-1.15,.1,-1.15,-.9,-1.3,2.9,-1.8,1.9,-1.85,.9,-1.85,-.1,-1.9,-1.1,-1.8,2.1,-2.4,1,-2.45,0,-2.4,-1,-2.45,-2,-2.3,-3,-2.3,.9,-2.85,-.1,-2.85,-1.1,-2.85,-2.1,-2.8,-3.1,-2.8,-4.1,-2.7,
];
const semDep = [
-.57,4.75,-2.54,4.29,.26,4.29,-5.13,3.28,-3.43,3.68,-1.89,3.68,-1.54,3.48,-1.56,2.97,-4.06,2.61,.04,3.28,1.01,3.38,.63,3.03,1.23,2.81,2.43,3.62,-.05,2.67,-1.66,2.37,-.76,2.37,-3.21,2.2,2.05,2.41,4.38,3.54,3.94,3.74,4.38,3.13,5.43,2.81,.6,2.41,.48,2.06,-.34,2.1,-2.08,2.02,1.23,2.02,1.61,1.9,3,2.41,3.25,1.96,2.62,1.76,3.69,1.66,4.13,1.62,-4.18,1.9,-2.61,1.86,-2.98,1.56,3.69,1.11,4.22,1.15,5.01,.75,2.56,.95,1.99,1.25,1.8,1.09,1.55,.65,.98,1.46,4.38,.55,4.47,.24,5.58,-.16,2.39,.14,1.89,-.47,1.15,-.32,.54,-.16,.86,.44,.48,.81,.83,-1.03,-.09,-1.31,.38,-1.58,2.81,-2.45,-.25,-1.94,-.84,-2.53,-1.76,-2.83,-1.79,-3.84,-2.57,-4.37,-3.24,-3.7,-3.09,-3.76,-4.02,-3.3,-7.27,-1.27,-6.89,-.42,-6.55,-.16,-6.83,-2.18,-6.39,-2.75,-6.07,-2.83,-5.69,1.09,-6.01,.75,-4.62,1.56,
-2.6,1.3,-2,1.2,-1.4,1.3,-.8,1.2,-.3,.9,-2.4,.7,-1.8,.6,-1.2,.5,-.6,.7,-.1,.4,.4,.1,-2.5,.1,-1.9,0,-1.3,-.1,-.7,.1,-.1,-.2,-2.3,-.5,-1.7,-.6,-1.1,-.8,-.5,-.6,-2.4,-1.2,-1.8,-1.3,-1.2,-1.5,-.6,-1.4,-2.1,-2,-1.5,-1.9,-3,-2.5,-2.5,-2.6,
-6.5,-.9,-6.1,-.6,-5.7,-.9,-6.3,-1.4,-5.9,-1.6,-5.5,-1.3,-6.1,-2,-5.7,-2.2,-5.3,-2,-5.4,.1,-5,.4,-4.6,.7,-4.2,.9,-3.8,1,-3.4,.9,-3,.7,-5.6,-.3,-5.2,-.4,-4.8,-.1,-4.4,.1,-4,.3,-3.6,.2,-3.2,.3,-2.8,.1,
-5.3,-.9,-4.9,-.8,-4.5,-.6,-4.1,-.4,-3.7,-.5,-3.3,-.3,-2.9,-.5,-5.1,-1.4,-4.7,-1.3,-4.3,-1.1,-3.9,-1,-3.5,-1.1,-3.1,-1,-2.7,-1.2,-5,-2,-4.6,-1.9,-4.2,-1.8,-3.8,-1.7,-3.4,-1.8,-3,-1.7,-2.6,-1.9,-4.9,-2.6,-4.5,-2.5,-4.1,-2.4,-3.7,-2.3,-3.3,-2.4,-5.3,-2.7,-4.3,-3,-3.8,-2.9,-3.2,-3,-4.8,-3.1,
];
const semDepCore = [
-5,.6,-4.6,1,-4.2,.5,-3.8,.6,-3.4,.5,-3,.2,-2.6,.5,-2.2,.3,-5.8,.2,-5.4,.5,-5.2,-.1,-4.9,-.3,-4.5,-.2,-4.1,-.1,-3.7,-.1,-3.3,-.1,-2.9,-.1,-2.5,-.2,-5.9,-.3,-5.5,-.6,-5.1,-.7,-4.7,-.6,-4.3,-.7,-3.9,-.7,-3.5,-.7,-3.1,-.7,-2.7,-.8,
-6.2,-1,-5.8,-1.2,-5.4,-1.1,-5,-1.1,-4.6,-1,-4.2,-1.4,-3.8,-1.3,-3.4,-1.4,-3,-1.3,-2.6,-1.5,-2.2,-1.6,-5.6,-1.7,-5.2,-1.6,-4.8,-1.6,-4.4,-1.5,-4,-1.5,-3.6,-1.5,-3.2,-1.6,-2.8,-1.6,-5.5,-2.3,-5.2,-2.3,-4.8,-2.2,-4.4,-2.2,-4,-2.1,-3.6,-2.1,-3.2,-2.1,-2.8,-2.2,-2.4,-2.2,-4.7,-2.8,-4.3,-2.7,-3.9,-2.6,-3.5,-2.7,-2.9,-2.7,-5.6,-2.6,
-1.2,1,-.9,.8,-.4,.5,-1.6,.3,-1,.2,-.5,.2,.1,.1,-2.1,-.3,-1.5,-.3,-.9,-.4,-.3,-.3,.3,-.3,-2,-.9,-1.5,-1,-.9,-1,-.3,-.8,-2.1,-1.4,-1.5,-1.4,-.9,-1.3,-1.8,-1.8,-1,-1.9,
];
const semDepFill = [
-4.8,.85,-4.4,.45,-4,.75,-3.6,.6,-3.2,.55,-2.8,.45,-5.2,.2,-4.7,.15,-4.3,.35,-3.9,.15,-3.5,.3,-3.1,.05,-2.7,-.05,-5.4,-.45,-5,-.5,-4.6,-.4,-4.2,-.35,-3.8,-.35,-3.4,-.45,-3,-.3,-2.6,-.5,-5.7,-.6,-5.5,-1,-5.1,-1,-4.7,-.95,-4.4,-1,-4,-.85,-3.6,-.95,-3.2,-.9,-2.8,-1,-5.8,-1.5,-5.3,-1.3,-4.9,-1.3,-4.5,-1.25,-4.1,-1.25,-3.7,-1.2,-3.3,-1.2,-2.9,-1.45,-5.4,-1.9,-5,-1.8,-4.5,-1.7,-4.1,-1.75,-3.7,-1.9,-3.3,-1.9,-2.9,-1.9,-2.5,-1.75,-5.1,-2.4,-4.6,-2.4,-4.2,-2.5,-3.8,-2.4,-3.4,-2.5,-3,-2.3,-2.6,-2.3,-5,-2.9,-4.5,-2.9,-4.1,-2.85,-3.5,-2.9,-6.3,-.9,-6,-1.3,-2,-1.4,-2.2,-.8,-2.2,-.2,-2,.5,
];

// Contour lines, as x,y points in axis values; fill colours go from one side to the other
const supLines = [
  [[-8.82,-7.0],[-8.42,-6.67],[-5.7,-4.0],[-3.08,0],[0.46,5.15],[2.02,8.39],[3.58,11.32]],
  [[-8.82,-8.35],[-7.22,-6.67],[-2.6,0],[0.96,5.15],[2.52,8.39],[4.08,11.32]],
  [[-8.82,-9.18],[-6.66,-6.67],[-2.2,0],[1.28,5.15],[2.82,8.39],[4.38,11.32]],
  [[-8.82,-9.75],[-6.32,-6.67],[-1.9,0],[1.54,5.15],[3.08,8.39],[4.64,11.32]],
  [[-8.82,-10.35],[-5.78,-6.67],[-1.58,0],[1.72,5.15],[3.28,8.39],[4.86,11.32]],
  [[-8.82,-10.82],[-5.42,-6.67],[-1.32,0],[1.92,5.15],[3.48,8.39],[5.06,11.32]],
  [[-8.82,-11.38],[-5.26,-6.67],[-1.06,0],[2.16,5.15],[3.72,8.39],[5.28,11.32]],
  [[-8.82,-11.95],[-6.48,-9.45],[-4.84,-6.67],[-0.82,0],[2.46,5.15],[4.02,8.39],[5.58,11.32]],
  [[-8.82,-12.87],[-6.48,-9.81],[-4.52,-6.67],[-1.88,-2.41],[-0.36,0],[1.32,2.97],[2.86,5.15],[3.72,7.13],[4.46,8.39],[4.98,9.46],[5.52,10.41],[5.96,11.32]],
];
const supCornerLines = [
  [[-7.66,11.32],[-7.92,10.52],[-8.32,9.36],[-8.52,8.86],[-8.82,8.33]],
  [[-8.16,11.32],[-8.42,10.72],[-8.82,9.72]],
  [[-8.48,11.32],[-8.82,10.5]],
  [[-8.72,11.32],[-8.82,11.2]],
];
const unsLines = [
  [[-6.92,11.32],[-6.3,9.34],[-5.7,6.6],[-5.09,3.83],[-4.55,1.12],[-4.23,-0.77],[-4.09,-1.84],[-3.8,-4.5],[-3.69,-7.04],[-3.72,-8.66],[-4.05,-10.88],[-4.58,-12.4],[-5.24,-13.2]],
  [[-6.14,11.32],[-5.67,9.6],[-4.96,7.12],[-4.44,5.1],[-3.89,3.0],[-3.6,1.05],[-2.93,-1.98],[-2.55,-5],[-2.25,-8.55],[-2.31,-10.9],[-2.6,-13.2]],
  [[-5.6,11.32],[-5.13,9.6],[-4.42,7.12],[-3.87,5.1],[-2.99,1.05],[-2.27,-1.98],[-1.82,-5],[-1.39,-8.55],[-1.29,-10.9],[-1.38,-13.2]],
  [[-5.26,11.32],[-4.79,9.6],[-4.07,7.12],[-3.51,5.1],[-2.59,1.05],[-1.77,-1.98],[-1.26,-5],[-0.73,-8.55],[-0.55,-10.9],[-0.54,-13.2]],
  [[-4.84,11.32],[-4.37,9.6],[-3.65,7.12],[-3.07,5.1],[-2.15,1.05],[-1.3,-1.98],[-0.73,-5],[-0.13,-8.55],[0.09,-10.9],[0.19,-13.2]],
  [[-4.42,11.32],[-3.95,9.6],[-3.23,7.12],[-2.63,5.1],[-1.75,1.05],[-0.89,-1.98],[-0.28,-5],[0.37,-8.55],[0.71,-10.9],[0.82,-13.2]],
  [[-4.11,11.32],[-3.63,9.6],[-2.91,7.12],[-2.3,5.1],[-1.38,1.05],[-0.48,-1.98],[0.19,-5],[0.91,-8.55],[1.35,-10.9],[1.48,-13.2]],
  [[-3.68,11.32],[-3.2,9.6],[-2.47,7.12],[-1.84,5.1],[-0.89,1.05],[0.06,-1.98],[0.8,-5],[1.61,-8.55],[2.01,-10.9],[2.23,-13.2]],
  [[-3.02,11.32],[-2.55,9.6],[-1.8,7.12],[-1.14,5.1],[-0.21,1.05],[0.78,-1.98],[1.6,-5],[2.51,-8.55],[2.97,-10.9],[3.28,-13.2]],
];
const semLines = [
  [[-8.75,-3.76],[-4.87,-1.6],[0,1.15],[5.67,4.17],[9.7,6.28]],
  [[-8.75,-4.2],[-4.87,-1.95],[0,0.75],[5.67,3.8],[9.7,6.0]],
  [[-8.75,-4.52],[-4.87,-2.2],[0,0.45],[5.67,3.54],[9.7,5.75]],
  [[-8.75,-4.77],[-4.87,-2.45],[0,0.2],[5.67,3.4],[9.7,5.56]],
  [[-8.75,-4.99],[-4.87,-2.7],[0,0],[5.67,3.2],[9.7,5.37]],
  [[-8.75,-5.31],[-4.87,-3.0],[0,-0.3],[5.67,2.95],[9.7,5.15]],
  [[-8.75,-5.59],[-4.87,-3.25],[0,-0.6],[5.67,2.65],[9.7,4.93]],
  [[-8.75,-5.94],[-4.87,-3.6],[0,-0.9],[5.67,2.35],[9.7,4.74]],
  [[-8.75,-6.5],[-4.87,-4.08],[0,-1.34],[5.67,2.0],[8.11,3.42],[9.7,4.39]],
];

const supColors = ["#b2222f", "#dd7059", "#f6b698", "#fae6dc", "#e2edf4", "#a8cfe3", "#58a1cb", "#2a70b1", "#053061"];
const supCornerColors = ["#b2222f", "#dd7059", "#f6b698", "#fae6dc"];
const unsColors = ["#ae1729", "#d6604d", "#f4a582", "#fddbc7", "#f7f7f7", "#d1e5f0", "#92c5de", "#4393c3", "#2166ac"];
const semColors = ["#2166ac", "#4393c3", "#92c5de", "#d1e5f0", "#f7f7f7", "#fddbc7", "#f4a582", "#d6604d", "#ae1729"];

const Y_MIN = -13.2;
const Y_MAX = 11.32;
const xRanges = [[-8.82, 9.7], [-8.81, 9.75], [-8.75, 9.7]];
const gridLefts = [133, 1154, 2175];
const gridWidths = [926, 928, 928];
const scoreXs = [877, 1896, 2918];
const titleXs = [594, 1615, 2639];

const INK = "#2a3f5f";
const FONT = '"Liberation Serif", serif';
const RED = "#ff0000";
const NAVY = "#00008b";

const pairs = (flat: number[]) => {
  const out: number[][] = [];
  for (let i = 0; i + 1 < flat.length; i += 2) out.push([flat[i], flat[i + 1]]);
  return out;
};

type Band = { color: string; line: number[][]; area: number[][] };

const bandsFor = (panel: number): Band[] => {
  const [x0, x1] = xRanges[panel];
  const tr = [x1 + 1, Y_MAX + 1];
  const br = [x1 + 1, Y_MIN - 1];
  const bl = [x0 - 1, Y_MIN - 1];
  const tl = [x0 - 1, Y_MAX + 1];
  const base = (c: string) => ({ color: c, line: [] as number[][], area: [tl, tr, br, bl] });
  if (panel === 0) {
    return [
      base("#67001f"),
      ...supCornerLines.map((l, i) => ({ color: supCornerColors[i], line: l, area: [...l, tl] })),
      ...supLines.map((l, i) => ({ color: supColors[i], line: l, area: [[x0 - 1, l[0][1]], ...l, tr, br, bl] })),
    ];
  }
  if (panel === 1) {
    return [
      base("#67001f"),
      ...unsLines.map((l, i) => ({ color: unsColors[i], line: l, area: [...l, br, tr] })),
    ];
  }
  return [
    base("#053061"),
    ...semLines.map((l, i) => ({ color: semColors[i], line: l, area: [[x0 - 1, l[0][1]], ...l, [x1 + 1, l[l.length - 1][1]], br, bl] })),
  ];
};

const contourSeries = (panel: number) => {
  const bands = bandsFor(panel);
  return {
    type: "custom",
    name: "contour " + panelTitles[panel],
    xAxisIndex: panel,
    yAxisIndex: panel,
    clip: true,
    silent: true,
    z: 1,
    data: bands.map((_, i) => [0, i * 0]),
    renderItem: (params: any, api: any) => {
      const b = bands[params.dataIndex];
      const children: any[] = [
        { type: "polygon", shape: { points: b.area.map((p) => api.coord(p)) }, style: { fill: b.color, stroke: null } },
      ];
      if (b.line.length) {
        children.push({
          type: "polyline",
          shape: { points: b.line.map((p) => api.coord(p)) },
          style: { fill: null, stroke: "#000", lineWidth: 1 },
        });
      }
      return { type: "group", children };
    },
  };
};

const scatter = (panel: number, name: string, color: string, flat: number[]) => ({
  type: "scatter",
  name,
  xAxisIndex: panel,
  yAxisIndex: panel,
  data: pairs(flat),
  symbol: "triangle",
  symbolSize: [21, 17],
  silent: true,
  clip: true,
  z: name === legendNames[0] ? 2 : 3,
  itemStyle: { color: "transparent", borderColor: color, borderWidth: 5.5, borderJoin: "miter", borderMiterLimit: 10, opacity: 1 },
});

const axisFmt = (v: number) => String(v).replace("-", "\u2212");

export default function App() {
  const ref = useRef<HTMLDivElement>(null);
  useEffect(() => {
    const chart = echarts.init(ref.current!, undefined, { renderer: "svg" });
    chart.setOption({
      animation: false,
      backgroundColor: "#fff",
      textStyle: { fontFamily: FONT },
      title: panelTitles.map((t, i) => ({
        text: t,
        left: titleXs[i],
        top: -1,
        textAlign: "center",
        textStyle: { color: INK, fontFamily: FONT, fontSize: 50, fontWeight: "normal" },
      })),
      legend: {
        data: legendNames,
        left: 2412,
        top: 948,
        itemWidth: 22,
        itemHeight: 18,
        itemGap: 68,
        selectedMode: false,
        textStyle: { color: INK, fontFamily: FONT, fontSize: 38, padding: [0, 0, 0, 46] },
      },
      grid: gridLefts.map((l, i) => ({ left: l, width: gridWidths[i], top: 69, height: 778, containLabel: false })),
      xAxis: xRanges.map((r, i) => ({
        type: "value",
        gridIndex: i,
        min: r[0],
        max: r[1],
        splitLine: { show: false },
        axisLine: { show: false },
        axisTick: { show: false },
        axisLabel: { customValues: tickX, formatter: axisFmt, color: INK, fontFamily: FONT, fontSize: 38, margin: 9 },
        name: i === 0 ? "X" : "",
        nameLocation: "middle",
        nameGap: 95,
        nameTextStyle: { color: INK, fontFamily: FONT, fontSize: 36 },
      })),
      yAxis: gridLefts.map((_, i) => ({
        type: "value",
        gridIndex: i,
        min: Y_MIN,
        max: Y_MAX,
        splitLine: { show: false },
        axisLine: { show: false },
        axisTick: { show: false },
        axisLabel: { customValues: tickY, formatter: axisFmt, color: INK, fontFamily: FONT, fontSize: 38, margin: 4 },
        name: i === 0 ? "Y" : "",
        nameLocation: "middle",
        nameGap: 100,
        nameRotate: 90,
        nameTextStyle: { color: INK, fontFamily: FONT, fontSize: 36 },
      })),
      graphic: scores.map((s, i) => ({
        type: "text",
        x: scoreXs[i],
        y: 794,
        z: 10,
        style: { text: s, fill: "#fff", fontFamily: FONT, fontSize: 41, textAlign: "center", textVerticalAlign: "middle" },
      })),
      series: [
        contourSeries(0),
        contourSeries(1),
        contourSeries(2),
        scatter(0, legendNames[0], RED, [...supNo, ...supNoCore, ...supNoFill]),
        scatter(0, legendNames[1], NAVY, [...supDep, ...supDepCore, ...supDepFill]),
        scatter(1, legendNames[0], RED, [...unsNo, ...unsNoCore, ...unsNoFill]),
        scatter(1, legendNames[1], NAVY, [...unsDep, ...unsDepCore, ...unsDepFill]),
        scatter(2, legendNames[0], RED, [...semNo, ...semNoCore, ...semNoFill]),
        scatter(2, legendNames[1], NAVY, [...semDep, ...semDepCore, ...semDepFill]),
      ],
    });
    return () => chart.dispose();
  }, []);
  return (
    <div
      ref={ref}
      style={{ position: "absolute", left: 0, top: 0, width: 3113, height: 1002, shapeRendering: "crispEdges" } as any}
    />
  );
}
